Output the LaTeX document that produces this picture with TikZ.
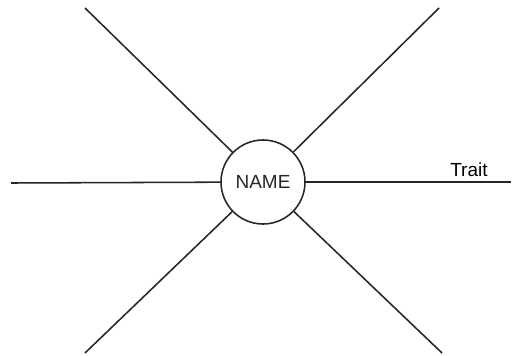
\documentclass[tikz,border=0pt]{standalone}
\usepackage{fontspec}
\setmainfont{Liberation Sans}
\usetikzlibrary{positioning}

\tikzset{
  spoke/.style={line width=1.1pt, black!85},
  hub/.style={circle, draw, line width=1.1pt, black!85, minimum size=2.1cm, inner sep=0pt}
}

\begin{document}
\begin{tikzpicture}[x=0.025cm, y=-0.025cm, font=\fontsize{13.5}{16}\selectfont]
  \useasboundingbox (0,0) rectangle (517,355);
  \node[hub] (name) at (263,182) {NAME};
  % ends of the spokes
  \coordinate (w)  at (11,183);
  \coordinate (e)  at (511,182);
  \coordinate (nw) at (85,8);
  \coordinate (ne) at (439,8);
  \coordinate (sw) at (85,353);
  \coordinate (se) at (442,353);
  \foreach \p in {w,e,nw,ne,sw,se}
    \draw[spoke] (name) -- (\p);
  \node[anchor=base west, inner sep=0pt] (trait) at (450,176) {Trait};
\end{tikzpicture}
\end{document}
